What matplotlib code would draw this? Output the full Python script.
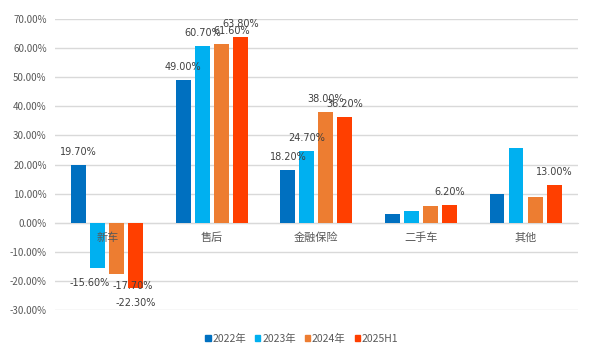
import numpy as np
import matplotlib.pyplot as plt
from matplotlib.patches import Rectangle
from matplotlib.ticker import FuncFormatter

plt.rcParams['font.family'] = ['Noto Sans CJK SC', 'DejaVu Sans']

categories = ['新车', '售后', '金融保险', '二手车', '其他']
series_names = ['2022年', '2023年', '2024年', '2025H1']
v2022 = [19.7, 49.0, 18.2, 3.0, 10.0]
v2023 = [-15.6, 60.7, 24.7, 4.2, 25.8]
v2024 = [-17.7, 61.6, 38.0, 5.8, 8.9]
v2025 = [-22.3, 63.8, 36.2, 6.2, 13.0]
# which bars carry a value label (the chart hides some)
show_label = [
    [True, True, True, False, False],
    [True, True, True, False, False],
    [True, True, True, False, False],
    [True, True, True, True, True],
]

colors = ['#0070C0', '#00B0F0', '#ED7D31', '#FF3F00']
series = [v2022, v2023, v2024, v2025]

fig = plt.figure(figsize=(6.0, 3.61), dpi=100)
ax = fig.add_axes([0.0917, 0.1413, 0.8713, 0.8057])

x = np.arange(len(categories))
pitch = 0.182
width = 0.143
# manual label nudges in pixels (dx, dy), keyed by (series, category)
nudge = {(1, 0): (-8, 0), (2, 0): (16, 3), (2, 1): (10, 0)}

for i, (vals, col) in enumerate(zip(series, colors)):
    pos = x + (i - 1.5) * pitch
    ax.bar(pos, vals, width=width, color=col, zorder=3)
    for j, (p, v) in enumerate(zip(pos, vals)):
        if not show_label[i][j]:
            continue
        dx, dy = nudge.get((i, j), (0, 0))
        off = 13 if v >= 0 else -15
        ax.annotate(f'{v:.2f}%', (p, v), xytext=(dx * 0.72, (off + dy) * 0.72),
                    textcoords='offset points', ha='center', va='center',
                    fontsize=7, color='#404040', family='DejaVu Sans', zorder=4)

ax.set_ylim(-30, 70)
ax.set_xlim(-0.5, len(categories) - 0.5)
ax.set_yticks(np.arange(-30, 71, 10))
ax.yaxis.set_major_formatter(FuncFormatter(lambda v, _: f'{v:.2f}%'))
ax.grid(axis='y', color='#D9D9D9', linewidth=1, zorder=0)
ax.set_axisbelow(True)

for s in ['top', 'right', 'left']:
    ax.spines[s].set_visible(False)
ax.spines['bottom'].set_position(('data', 0))
ax.spines['bottom'].set_color('#D9D9D9')
ax.spines['bottom'].set_zorder(1)

ax.set_xticks(x)
ax.set_xticklabels(categories, fontsize=8, color='#595959')
ax.xaxis.set_zorder(5)
ax.tick_params(axis='x', length=0, pad=7)
ax.tick_params(axis='y', length=0, labelsize=7, labelcolor='#595959', pad=6)

handles = [Rectangle((0, 0), 1, 1, color=c) for c in colors]
fig.legend(handles, series_names, loc='center', bbox_to_anchor=(0.503, 0.061),
           ncol=4, frameon=False, fontsize=7.5, handlelength=0.5, handleheight=0.5,
           handletextpad=0.15, columnspacing=0.9, labelcolor='#595959')

fig.savefig('out.png', dpi=100)
